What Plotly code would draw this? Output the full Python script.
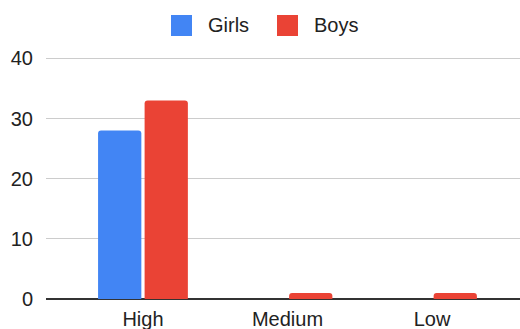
import plotly.graph_objects as go

categories = ["High", "Medium", "Low"]
girls = [28, 0, 0]
boys = [33, 1, 1]
y_ticks = [0, 10, 20, 30, 40]
series_names = ["Girls", "Boys"]
series_colors = ["#4285F4", "#EA4335"]

FONT = "Arial, 'Liberation Sans', sans-serif"
TXT = "#222222"

W, H = 520, 329
ML, MR, MT, MB = 46, 0, 56, 30
PW, PH = W - ML - MR, H - MT - MB


def px_x(px):
    return (px - ML) / PW


def px_y(py):
    return (H - MB - py) / PH


fig = go.Figure()
for name, vals, col in zip(series_names, [girls, boys], series_colors):
    fig.add_trace(go.Bar(name=name, x=categories, y=vals, showlegend=False,
                         marker=dict(color=col, cornerradius=3, line=dict(width=0))))

# custom legend (big rounded squares like the reference)
legend_sq_x = [171, 277]
legend_txt_x = [206, 312]
shapes = []
annotations = []
for name, col, sx, tx in zip(series_names, series_colors, legend_sq_x, legend_txt_x):
    shapes.append(dict(type="rect", xref="paper", yref="paper",
                       x0=px_x(sx), x1=px_x(sx + 21), y0=px_y(36), y1=px_y(15),
                       fillcolor=col, line=dict(width=0), layer="above"))
    annotations.append(dict(text=name, xref="paper", yref="paper",
                            x=px_x(tx), y=px_y(25.5), xanchor="left", yanchor="middle",
                            showarrow=False, font=dict(family=FONT, size=20, color=TXT)))

fig.update_layout(
    width=W, height=H,
    margin=dict(l=ML, r=MR, t=MT, b=MB),
    paper_bgcolor="white", plot_bgcolor="white",
    font=dict(family=FONT, size=20, color=TXT),
    barmode="group", bargap=0.356, bargroupgap=0.07,
    showlegend=False,
    shapes=shapes, annotations=annotations,
)
fig.update_xaxes(range=[-0.671, 2.609], showgrid=False, showline=False,
                 ticks="", tickfont=dict(family=FONT, size=20, color=TXT),
                 ticklabelstandoff=6)
fig.update_yaxes(range=[0, 40.4], tickvals=y_ticks, showgrid=True,
                 gridcolor="#cccccc", gridwidth=1, zeroline=True,
                 zerolinecolor="#333333", zerolinewidth=1.5, showline=False,
                 ticks="", tickfont=dict(family=FONT, size=20, color=TXT),
                 ticklabelstandoff=12)

fig.write_html("out.html")
